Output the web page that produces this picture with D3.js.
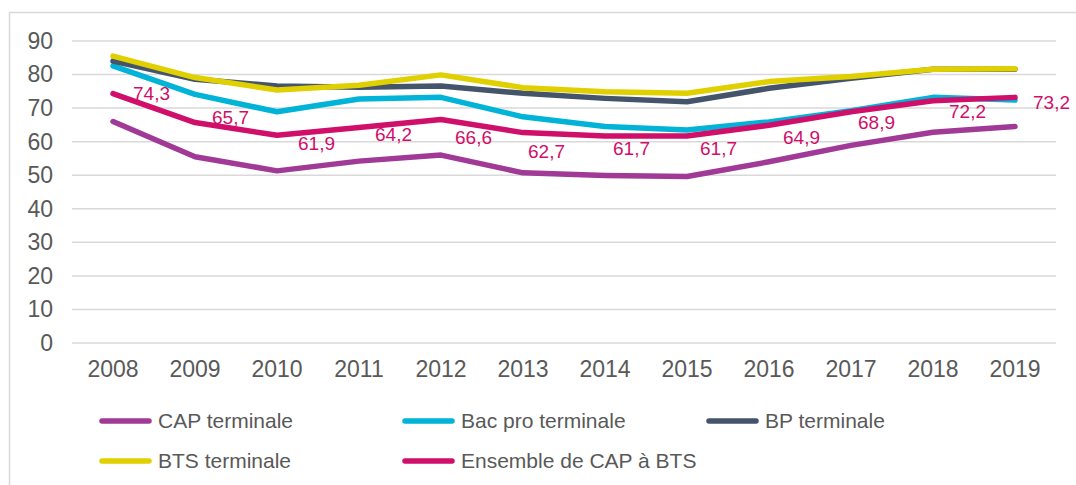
<!DOCTYPE html>
<html><head><meta charset="utf-8">
<script src="https://cdn.jsdelivr.net/npm/d3@7/dist/d3.min.js"></script>
<style>
body{margin:0;background:#fff;}
svg{display:block;font-family:"Liberation Sans",Arial,sans-serif;}
</style></head>
<body><svg id="c" width="1076" height="485"></svg>
<script>
const years = ["2008","2009","2010","2011","2012","2013","2014","2015","2016","2017","2018","2019"];
const yTicks = [0,10,20,30,40,50,60,70,80,90];
const capTerminale = [66.0,55.5,51.3,54.2,56.0,50.7,49.9,49.6,54.0,58.9,62.8,64.5];
const bacProTerminale = [82.6,74.1,68.9,72.7,73.2,67.4,64.5,63.5,65.9,69.2,73.2,72.4];
const bpTerminale = [84.0,78.6,76.6,76.2,76.6,74.4,72.9,71.9,75.9,78.9,81.6,81.6];
const btsTerminale = [85.5,79.1,75.4,76.8,79.9,76.1,74.9,74.4,77.9,79.4,81.6,81.7];
const ensemble = [74.3,65.7,61.9,64.2,66.6,62.7,61.7,61.7,64.9,68.9,72.2,73.2];
const seriesNames = ["CAP terminale","Bac pro terminale","BP terminale","BTS terminale","Ensemble de CAP à BTS"];

// layout (not data)
const colors = ["#a03a96","#00b3d7","#44546a","#e0d000","#cf0f69"];
const labelOffsets = [[20,0],[17,-5],[21,8],[16,7],[14,18],[5,19],[8,12],[13,12],[14,12],[7,11],[16,11],[18,5]];

const seriesValues = [capTerminale,bacProTerminale,bpTerminale,btsTerminale,ensemble];
const svg = d3.select("#c");

// frame
svg.append("path").attr("d","M9.5,485 V12.5 H1076").attr("fill","none").attr("stroke","#d9d9d9").attr("stroke-width",1.5);

const x = d3.scaleBand().domain(years).range([72,1056]).padding(0);
const y = d3.scaleLinear().domain([0,90]).range([343,41]);

// gridlines
svg.append("g").selectAll("line").data(yTicks).join("line")
  .attr("x1",72).attr("x2",1056)
  .attr("y1",d=>y(d)).attr("y2",d=>y(d))
  .attr("stroke","#d9d9d9").attr("stroke-width",1.5);

// y axis
const ya = svg.append("g").attr("transform","translate(53,0)")
  .call(d3.axisLeft(y).tickValues(yTicks).tickSize(0).tickPadding(0));
ya.select(".domain").remove();
ya.selectAll("text").attr("font-size",23).attr("fill","#595959").attr("font-family","Liberation Sans, Arial, sans-serif");

// x axis
const xa = svg.append("g").attr("transform","translate(0,343)")
  .call(d3.axisBottom(x).tickSize(0).tickPadding(18));
xa.select(".domain").remove();
xa.selectAll("text").attr("font-size",23).attr("fill","#595959").attr("font-family","Liberation Sans, Arial, sans-serif");

// lines
const line = d3.line().x((d,i)=>x(years[i])+x.bandwidth()/2).y(d=>y(d));
svg.append("g").selectAll("path").data(seriesValues).join("path")
  .attr("d",d=>line(d)).attr("fill","none")
  .attr("stroke",(d,i)=>colors[i]).attr("stroke-width",5.5)
  .attr("stroke-linecap","round").attr("stroke-linejoin","round");

// data labels for Ensemble
svg.append("g").selectAll("text").data(ensemble).join("text")
  .attr("x",(d,i)=>x(years[i])+x.bandwidth()/2+labelOffsets[i][0])
  .attr("y",(d,i)=>y(d)+labelOffsets[i][1])
  .attr("dy","0.35em")
  .attr("font-size",19).attr("fill","#cf0f69")
  .text(d=>d3.format(".1f")(d).replace(".",","));

// legend
const legendPos = [[100,421],[403,421],[707,421],[100,461],[403,461]];
const lg = svg.append("g").selectAll("g").data(seriesNames).join("g")
  .attr("transform",(d,i)=>`translate(${legendPos[i][0]},${legendPos[i][1]})`);
lg.append("line").attr("x1",2).attr("x2",49).attr("y1",0).attr("y2",0)
  .attr("stroke",(d,i)=>colors[i]).attr("stroke-width",5.5).attr("stroke-linecap","round");
lg.append("text").attr("x",58).attr("dy","0.35em").attr("font-size",21).attr("fill","#595959").text(d=>d);
</script></body></html>
